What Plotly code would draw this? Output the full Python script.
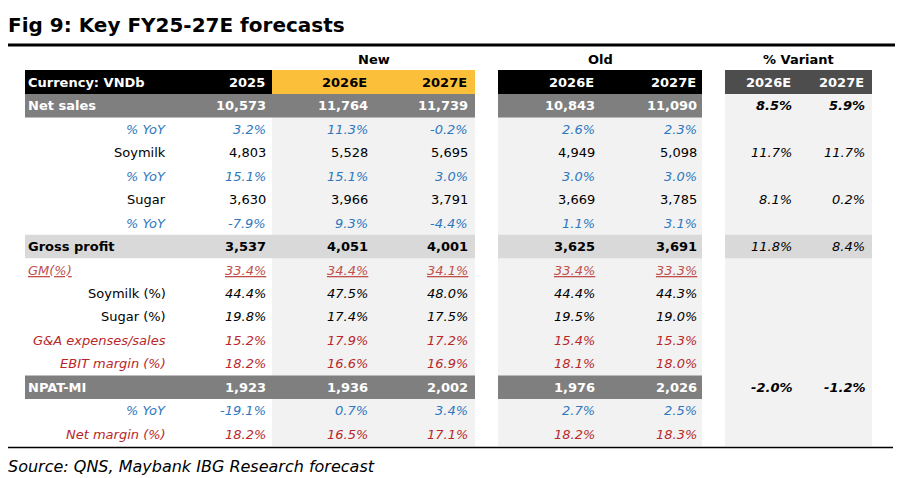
import plotly.graph_objects as go

# ---------------- data ----------------
title = "Fig 9: Key FY25-27E forecasts"
source = "Source: QNS, Maybank IBG Research forecast"
corner_label = "Currency: VNDb"
groups = ["New", "Old", "% Variant"]
col_headers = ["2025", "2026E", "2027E", "2026E", "2027E", "2026E", "2027E"]

row_labels = ["Net sales", "% YoY", "Soymilk", "% YoY", "Sugar", "% YoY",
              "Gross profit", "GM(%)", "Soymilk (%)", "Sugar (%)",
              "G&A expenses/sales", "EBIT margin (%)", "NPAT-MI", "% YoY",
              "Net margin (%)"]
row_kinds = ["main", "yoy", "seg", "yoy", "seg", "yoy", "gp", "gm", "mblack",
             "mblack", "mred", "mred", "main", "yoy", "mred"]
row_is_pct = [False, True, False, True, False, True, False, True, True, True,
              True, True, False, True, True]

fy2025 = [10573, 3.2, 4803, 15.1, 3630, -7.9, 3537, 33.4, 44.4, 19.8, 15.2, 18.2, 1923, -19.1, 18.2]
new2026 = [11764, 11.3, 5528, 15.1, 3966, 9.3, 4051, 34.4, 47.5, 17.4, 17.9, 16.6, 1936, 0.7, 16.5]
new2027 = [11739, -0.2, 5695, 3.0, 3791, -4.4, 4001, 34.1, 48.0, 17.5, 17.2, 16.9, 2002, 3.4, 17.1]
old2026 = [10843, 2.6, 4949, 3.0, 3669, 1.1, 3625, 33.4, 44.4, 19.5, 15.4, 18.1, 1976, 2.7, 18.2]
old2027 = [11090, 2.3, 5098, 3.0, 3785, 3.1, 3691, 33.3, 44.3, 19.0, 15.3, 18.0, 2026, 2.5, 18.3]
var2026 = [8.5, None, 11.7, None, 8.1, None, 11.8, None, None, None, None, None, -2.0, None, None]
var2027 = [5.9, None, 11.7, None, 0.2, None, 8.4, None, None, None, None, None, -1.2, None, None]

# ---------------- layout / styles ----------------
FONT = "DejaVu Sans"
FS = 13
W, H = 918, 478
BLUE = "#2f78c0"
RED = "#b8282b"
GMRED = "#c0504d"
DARKGRAY = "#7f7f7f"
LIGHT = "#f2f2f2"
GPGRAY = "#d9d9d9"
ORANGE = "#fbbf3a"

hdr_top, hdr_bot = 70, 94
body_bot = 446
n_rows = len(row_labels)
row_h = (body_bot - hdr_bot) / n_rows

label_left, label_right = 26, 168
col_right = [268, 370, 470, 597, 699, 794, 867]
blocks = {"left": (25, 272), "new": (272, 475), "old": (498, 702), "var": (725, 872)}
group_blocks = ["new", "old", "var"]

shapes = []
annotations = []


def rect(x0, x1, y0, y1, color):
    shapes.append(dict(type="rect", xref="x", yref="y", x0=x0, x1=x1, y0=y0, y1=y1,
                       fillcolor=color, line=dict(width=0), layer="below"))


def text(x, y, s, anchor="right", color="black", bold=False, italic=False,
         size=FS, family=FONT):
    if bold:
        s = "<b>" + s + "</b>"
    if italic:
        s = "<i>" + s + "</i>"
    annotations.append(dict(x=x, y=y, xref="x", yref="y", text=s, showarrow=False,
                            xanchor=anchor, yanchor="middle",
                            font=dict(family=family, size=size, color=color)))


def fmt(v, pct):
    if v is None:
        return ""
    if pct:
        return f"{v:.1f}%"
    return f"{int(round(v)):,}"


# title + rules
text(6, 25, title, anchor="left", bold=True, size=20)
shapes.append(dict(type="line", xref="x", yref="y", x0=8, x1=895, y0=45, y1=45,
                   line=dict(color="black", width=3)))
shapes.append(dict(type="line", xref="x", yref="y", x0=8, x1=893, y0=447.5, y1=447.5,
                   line=dict(color="black", width=1.6)))
text(6, 466, source, anchor="left", italic=True, size=16)

# body backgrounds
for b in ("new", "old", "var"):
    x0, x1 = blocks[b]
    rect(x0, x1, hdr_bot, body_bot, LIGHT)

# header row
rect(*blocks["left"], hdr_top, hdr_bot, "black")
rect(*blocks["new"], hdr_top, hdr_bot, ORANGE)
rect(*blocks["old"], hdr_top, hdr_bot, "black")
rect(*blocks["var"], hdr_top, hdr_bot, "#4d4d4d")

for g, b in zip(groups, group_blocks):
    x0, x1 = blocks[b]
    text((x0 + x1) / 2, 59, g, anchor="center", bold=True)

hy = (hdr_top + hdr_bot) / 2
text(label_left, hy, corner_label, anchor="left", color="white", bold=True)
hdr_colors = ["white", "black", "black", "white", "white", "white", "white"]
for i, h in enumerate(col_headers):
    text(col_right[i] - 1, hy, h, color=hdr_colors[i], bold=True)

# body rows
cols = [fy2025, new2026, new2027, old2026, old2027, var2026, var2027]
for r in range(n_rows):
    y0 = hdr_bot + r * row_h
    y1 = y0 + row_h
    yc = (y0 + y1) / 2
    kind = row_kinds[r]
    pct = row_is_pct[r]
    if kind == "main":
        rect(25, 475, y0, y1, DARKGRAY)
        rect(*blocks["old"], y0, y1, DARKGRAY)
    elif kind == "gp":
        rect(25, 475, y0, y1, GPGRAY)
        rect(*blocks["old"], y0, y1, GPGRAY)
        rect(*blocks["var"], y0, y1, GPGRAY)

    lab = row_labels[r]
    if kind == "main":
        text(label_left, yc, lab, anchor="left", color="white", bold=True)
        vstyle = dict(color="white", bold=True)
    elif kind == "gp":
        text(label_left, yc, lab, anchor="left", color="black", bold=True)
        vstyle = dict(color="black", bold=True)
    elif kind == "gm":
        text(label_left, yc, "<u>" + lab + "</u>", anchor="left", color=GMRED, italic=True)
        vstyle = dict(color=GMRED, italic=True, underline=True)
    elif kind == "yoy":
        text(label_right, yc, lab, color=BLUE, italic=True)
        vstyle = dict(color=BLUE, italic=True)
    elif kind == "seg":
        text(label_right, yc, lab, color="black")
        vstyle = dict(color="black")
    elif kind == "mblack":
        text(label_right, yc, lab, color="black")
        vstyle = dict(color="black", italic=True)
    else:  # mred
        text(label_right, yc, lab, color=RED, italic=True)
        vstyle = dict(color=RED, italic=True)

    for c in range(5):
        s = fmt(cols[c][r], pct)
        st = dict(vstyle)
        if st.pop("underline", False):
            s = "<u>" + s + "</u>"
        text(col_right[c], yc, s, **st)

    for c in (5, 6):
        s = fmt(cols[c][r], True)
        if s:
            text(col_right[c], yc, s, color="black", italic=True, bold=(kind == "main"))

fig = go.Figure()
fig.update_layout(
    width=W, height=H, autosize=False,
    margin=dict(l=0, r=0, t=0, b=0),
    paper_bgcolor="white", plot_bgcolor="white",
    xaxis=dict(range=[0, W], visible=False, fixedrange=True),
    yaxis=dict(range=[H, 0], visible=False, fixedrange=True),
    shapes=shapes, annotations=annotations, showlegend=False,
)
fig.write_html("out.html", config={"displayModeBar": False},
               post_script="document.body.style.margin='0px';document.body.style.overflow='hidden';")
